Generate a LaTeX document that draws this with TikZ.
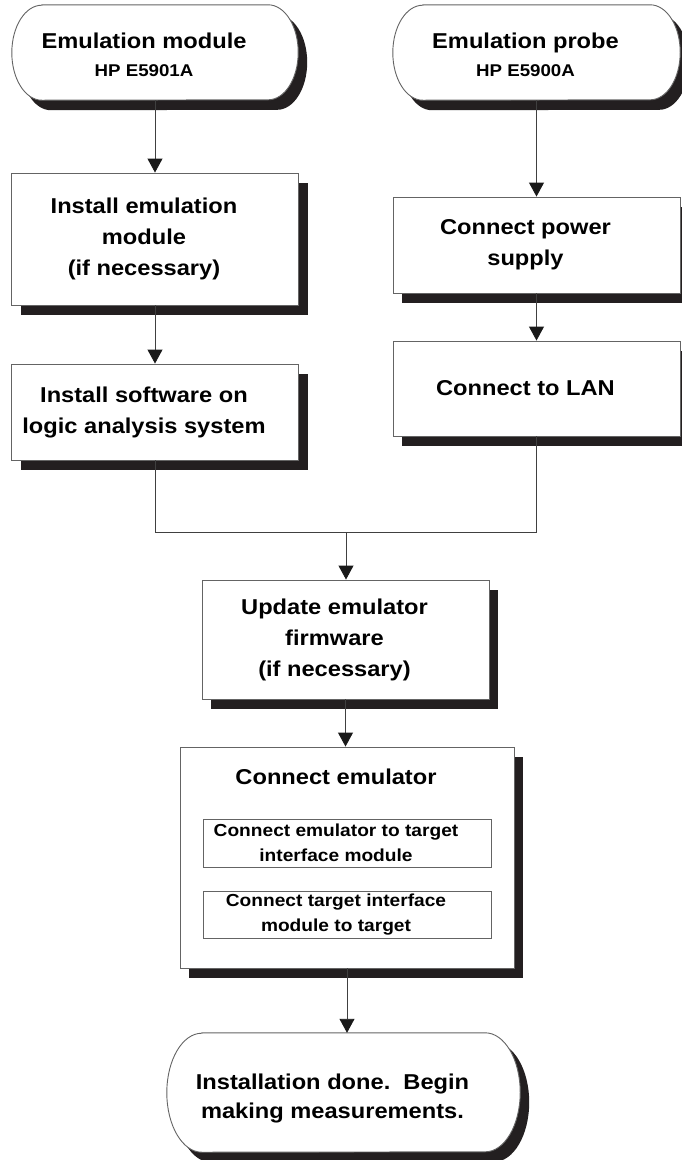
\documentclass[tikz,border=0pt]{standalone}
\usepackage{fontspec}
\setmainfont{Liberation Sans}[FakeStretch=1.1]
\usetikzlibrary{arrows.meta,shadows,positioning}
\definecolor{shadowc}{RGB}{35,31,32}
\definecolor{edgec}{RGB}{100,100,100}
\newcommand{\termline}[3]{%
  \draw[termedge] ([xshift=#2]#1.north west) -- ([xshift=-#2]#1.north east)
    arc[start angle=90, end angle=-90, x radius=#2, y radius=#3]
    -- ([xshift=#2]#1.south west)
    arc[start angle=270, end angle=90, x radius=#2, y radius=#3] -- cycle;}

\tikzset{
  boxshadow/.style={drop shadow={shadow xshift=9pt, shadow yshift=-10pt, fill=shadowc, opacity=1}},
  stepbox/.style={rectangle, draw=edgec, line width=0.9pt, fill=white, boxshadow, inner sep=0pt, minimum width=287pt},
  subbox/.style={rectangle, draw=edgec, line width=0.9pt, fill=white, inner sep=0pt, minimum width=288pt},
  termedge/.style={draw=edgec, line width=0.9pt, fill=white, boxshadow},
  termspot/.style={rectangle, inner sep=0pt},
  words/.style={align=center, inner sep=0pt, font=\bfseries\fontsize{21.5}{31}\selectfont},
  smallwords/.style={align=center, inner sep=0pt, font=\bfseries\fontsize{17.4}{25}\selectfont},
  lbl/.style={words, xshift=-11pt},
  smalllbl/.style={smallwords, xshift=-11pt},
  link/.style={draw=black!75, line width=0.9pt},
  arr/.style={link, -{Triangle[length=14pt, width=15pt, color=black!90]}}
}

\begin{document}
\begin{tikzpicture}[x=1pt, y=-1pt]
  \useasboundingbox (0,0) rectangle (681,1160);

  %% start points
  \node[termspot, minimum width=286pt, minimum height=95pt] (module) at (155,52.5) {};
  \termline{module}{30pt}{47.5pt}
  \node[words] (module-txt) at ([xshift=-11pt, yshift=-2.5pt]module.center)
    {Emulation module\\[-3pt]{\fontsize{17}{20}\selectfont HP E5901A}};

  \node[termspot, minimum width=287pt, minimum height=95pt] (probe) at (536.5,52.5) {};
  \termline{probe}{30pt}{47.5pt}
  \node[words] (probe-txt) at ([xshift=-11pt, yshift=-2.5pt]probe.center)
    {Emulation probe\\[-3pt]{\fontsize{17}{20}\selectfont HP E5900A}};

  %% left column
  \node[stepbox, minimum height=132pt, label={[lbl]center:Install emulation\\module\\(if necessary)}] (instmod) at (155,239) {};
  \node[stepbox, minimum height=96pt, label={[lbl]center:Install software on\\logic analysis system}] (instsw) at (155,412) {};

  %% right column
  \node[stepbox, minimum height=96pt, label={[lbl]center:Connect power\\supply}] (power) at (536.5,245) {};
  \node[stepbox, minimum height=95pt, label={[lbl]center:Connect to LAN}] (lan) at (536.5,388.5) {};

  %% common steps
  \node[stepbox, minimum height=119pt, label={[lbl]center:Update emulator\\firmware\\(if necessary)}] (update) at (345.5,639.5) {};
  \node[stepbox, minimum width=334pt, minimum height=221pt] (emu) at (347,857.5) {};
  \node[words] (emu-title) at ([xshift=-11pt, yshift=-30pt]emu.north) {Connect emulator};
  \node[subbox, minimum height=48pt, label={[smalllbl]center:Connect emulator to target\\interface module}] (sub1) at (347,843) {};
  \node[subbox, minimum height=47pt, label={[smalllbl]center:Connect target interface\\module to target}] (sub2) at (347,914.5) {};

  %% end
  \node[termspot, minimum width=353pt, minimum height=119pt] (done) at (343.5,1092.5) {};
  \termline{done}{35pt}{59.5pt}
  \node[words] (done-txt) at ([xshift=-11pt, yshift=-5.5pt]done.center)
    {Installation done.\ \ Begin\\[-2pt]making measurements.};

  %% connectors
  \draw[arr] (module) -- (instmod);
  \draw[arr] (instmod) -- (instsw);
  \draw[arr] (probe) -- (power);
  \draw[arr] (power) -- (lan);
  \coordinate (join) at (346,532);
  \draw[link] (instsw.south) |- (join);
  \draw[link] (lan.south) |- (join);
  \draw[arr] (join) -- (join |- update.north);
  \draw[arr] (update.south) -- (update.south |- emu.north);
  \draw[arr] (emu.south) -- (emu.south |- done.north);
\end{tikzpicture}
\end{document}
